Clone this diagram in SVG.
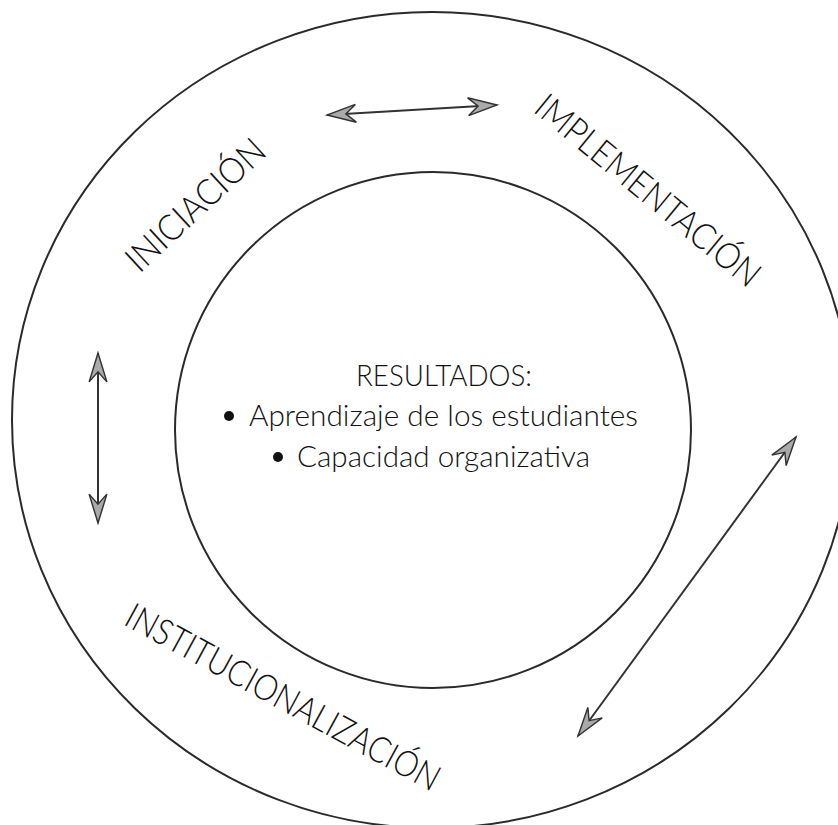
<svg xmlns="http://www.w3.org/2000/svg" width="838" height="825" viewBox="0 0 838 825">
<style>
.ring{fill:none;stroke:#2a2a2a;stroke-width:2}
.conn{fill:none;stroke:#333;stroke-width:2;marker-start:url(#ah);marker-end:url(#ah)}
text{font-family:Lato,"Open Sans","Liberation Sans",sans-serif;font-weight:300;fill:#111}
.lbl{font-size:36px}
.ctr{font-size:29px}
.dot{fill:#111}
</style>
<defs>
<marker id="ah" markerUnits="userSpaceOnUse" markerWidth="40" markerHeight="30" viewBox="-32 -12 36 24" refX="0" refY="0" orient="auto-start-reverse">
<path d="M0,0 L-26,-8 L-17,0 L-26,8 Z" fill="#aaa" stroke="#333" stroke-width="1.3"/>
</marker>
</defs>
<rect width="838" height="825" fill="#fff"/>
<g id="outer"><ellipse class="ring" cx="432" cy="420" rx="420" ry="408"/></g>
<g id="inner"><circle class="ring" cx="433" cy="430" r="258"/></g>
<g id="resultados">
<text class="ctr" x="356" y="386" textLength="176" lengthAdjust="spacingAndGlyphs">RESULTADOS:</text>
<circle class="dot" cx="229" cy="416" r="5"/>
<text class="ctr" x="249" y="426" textLength="389" lengthAdjust="spacingAndGlyphs">Aprendizaje de los estudiantes</text>
<circle class="dot" cx="278" cy="457" r="5"/>
<text class="ctr" x="297" y="467" textLength="293" lengthAdjust="spacingAndGlyphs">Capacidad organizativa</text>
</g>
<g id="iniciacion"><text class="lbl" transform="translate(204,214) rotate(-42.9)" text-anchor="middle" textLength="176" lengthAdjust="spacingAndGlyphs">INICIACIÓN</text></g>
<g id="implementacion"><text class="lbl" transform="translate(640,200) rotate(39.5)" text-anchor="middle" textLength="280" lengthAdjust="spacingAndGlyphs">IMPLEMENTACIÓN</text></g>
<g id="institucionalizacion"><text class="lbl" transform="translate(277,708) rotate(28.5)" text-anchor="middle" textLength="352" lengthAdjust="spacingAndGlyphs">INSTITUCIONALIZACIÓN</text></g>
<g id="connectors">
<path class="conn" d="M327,115 L497,105"/>
<path class="conn" d="M98,353 L98,523"/>
<path class="conn" d="M796,437 L578,736"/>
</g>
</svg>
